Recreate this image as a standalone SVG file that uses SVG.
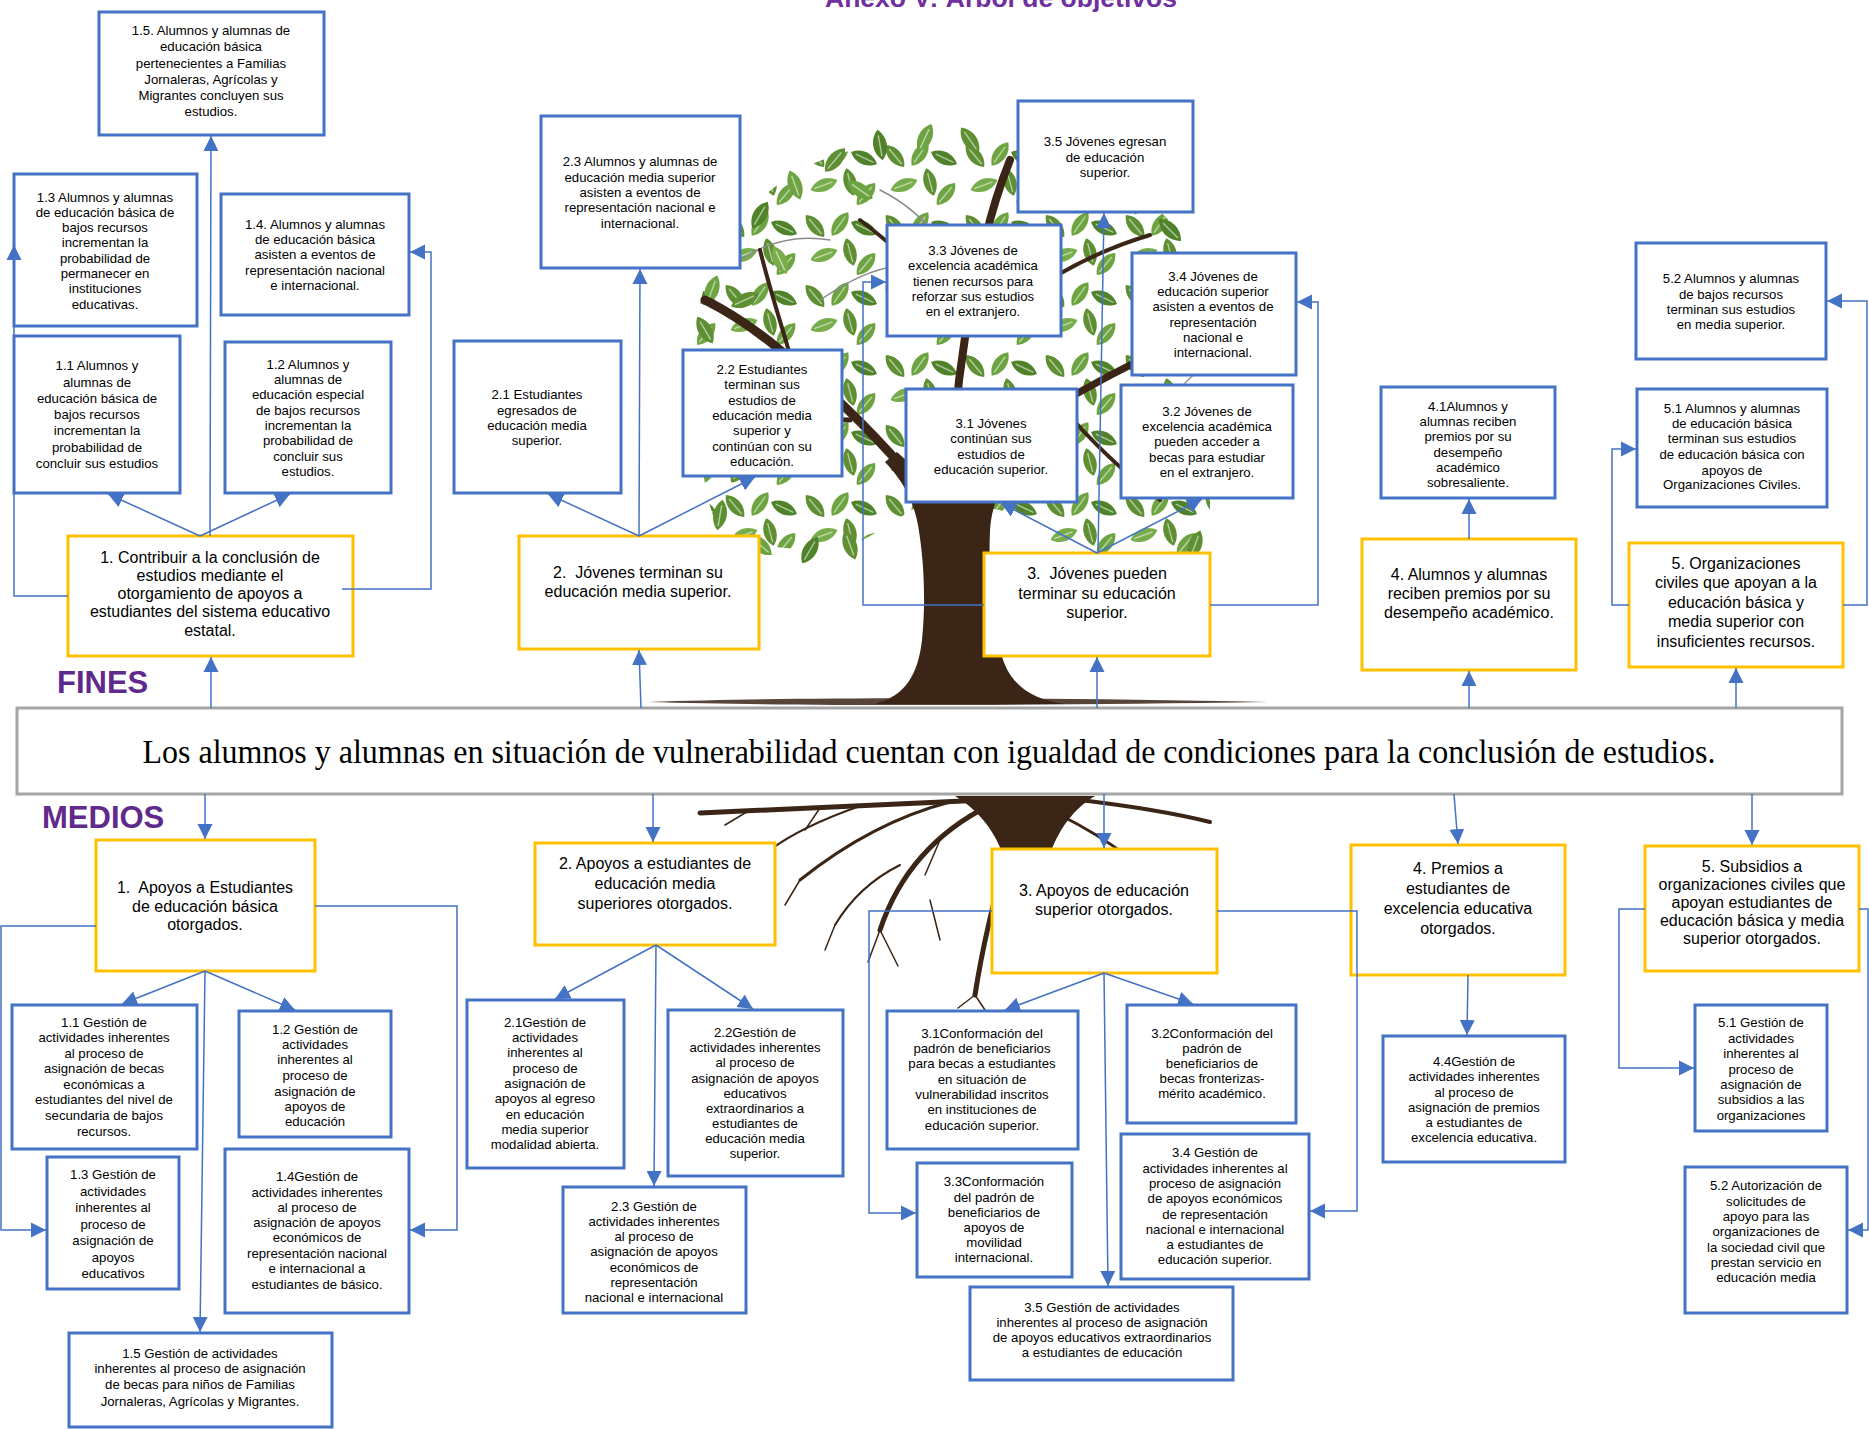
<svg xmlns="http://www.w3.org/2000/svg" xmlns:xlink="http://www.w3.org/1999/xlink" width="1869" height="1429" viewBox="0 0 1869 1429">
<defs>
<style>
.s{font-family:"Liberation Sans",Arial,sans-serif;font-size:13.2px;fill:#000;text-anchor:middle}
.m{font-family:"Liberation Sans",Arial,sans-serif;font-size:16px;fill:#000;text-anchor:middle;white-space:pre}
.bx{fill:#fff;stroke:#4472C4;stroke-width:3}
.yb{fill:#fff;stroke:#FFC000;stroke-width:3}
.cn{fill:none;stroke:#4472C4;stroke-width:1.5;marker-end:url(#ah)}
.lbl{font-family:"Liberation Sans",Arial,sans-serif;font-weight:bold;fill:#5F2A8C}
.br{stroke:#3a2516;fill:none;stroke-linecap:round}
.tw{stroke:#8a8a8a;fill:none;stroke-width:1.5;stroke-linecap:round}
</style>
<marker id="ah" markerUnits="userSpaceOnUse" markerWidth="16" markerHeight="16" viewBox="0 0 16 16" refX="15" refY="8" orient="auto"><path d="M0,0.5 L15,8 L0,15.5 Z" fill="#4472C4"/></marker>
<g id="lf"><path d="M0,-11 C6.5,-5 6.5,5 0,11 C-6.5,5 -6.5,-5 0,-11Z"/><path d="M0,-7 L0,8" stroke="#fff" stroke-width="1" opacity="0.55"/></g>
<pattern id="leaves" patternUnits="userSpaceOnUse" width="80" height="70">
<use xlink:href="#lf" transform="translate(15,16) rotate(-40) scale(1.3)" fill="#5e8f32"/>
<use xlink:href="#lf" transform="translate(40,14) rotate(35) scale(1.3)" fill="#6da341"/>
<use xlink:href="#lf" transform="translate(64,18) rotate(-65) scale(1.3)" fill="#4f8229"/>
<use xlink:href="#lf" transform="translate(24,45) rotate(70) scale(1.3)" fill="#77ad4b"/>
<use xlink:href="#lf" transform="translate(50,42) rotate(-15) scale(1.3)" fill="#5e8f32"/>
<use xlink:href="#lf" transform="translate(66,54) rotate(40) scale(1.3)" fill="#6da341"/>
</pattern>
<clipPath id="c51"><rect x="1695" y="1005" width="132" height="118"/></clipPath>
</defs>
<rect x="0" y="0" width="1869" height="1429" fill="#fff"/>

<g id="tree">
<path d="M697,340 C695,270 740,200 810,165 C870,138 950,132 1010,140 C1080,150 1150,190 1185,240 C1215,290 1218,360 1212,420 C1208,480 1215,530 1200,552 C1160,560 1090,555 1050,540 L1000,510 L930,500 C890,520 870,545 830,548 C780,552 740,545 715,520 C698,480 700,420 697,340 Z" fill="url(#leaves)"/>
<g>
<use xlink:href="#lf" transform="translate(705,330) rotate(-30) scale(1.4)" fill="#5e8f32"/>
<use xlink:href="#lf" transform="translate(712,290) rotate(20) scale(1.4)" fill="#6da341"/>
<use xlink:href="#lf" transform="translate(730,250) rotate(-50) scale(1.4)" fill="#5e8f32"/>
<use xlink:href="#lf" transform="translate(760,215) rotate(30) scale(1.4)" fill="#4f8229"/>
<use xlink:href="#lf" transform="translate(795,185) rotate(-20) scale(1.4)" fill="#6da341"/>
<use xlink:href="#lf" transform="translate(835,160) rotate(40) scale(1.4)" fill="#5e8f32"/>
<use xlink:href="#lf" transform="translate(880,145) rotate(-10) scale(1.4)" fill="#4f8229"/>
<use xlink:href="#lf" transform="translate(925,138) rotate(25) scale(1.4)" fill="#6da341"/>
<use xlink:href="#lf" transform="translate(970,140) rotate(-35) scale(1.4)" fill="#5e8f32"/>
<use xlink:href="#lf" transform="translate(1200,300) rotate(60) scale(1.4)" fill="#6da341"/>
<use xlink:href="#lf" transform="translate(1205,350) rotate(-20) scale(1.4)" fill="#5e8f32"/>
<use xlink:href="#lf" transform="translate(1208,420) rotate(30) scale(1.4)" fill="#4f8229"/>
<use xlink:href="#lf" transform="translate(1205,480) rotate(-40) scale(1.4)" fill="#6da341"/>
<use xlink:href="#lf" transform="translate(1195,545) rotate(20) scale(1.4)" fill="#5e8f32"/>
<use xlink:href="#lf" transform="translate(705,400) rotate(50) scale(1.4)" fill="#6da341"/>
<use xlink:href="#lf" transform="translate(708,460) rotate(-30) scale(1.4)" fill="#4f8229"/>
<use xlink:href="#lf" transform="translate(720,515) rotate(10) scale(1.4)" fill="#5e8f32"/>
<use xlink:href="#lf" transform="translate(760,545) rotate(-50) scale(1.4)" fill="#6da341"/>
<use xlink:href="#lf" transform="translate(810,550) rotate(30) scale(1.4)" fill="#4f8229"/>
<use xlink:href="#lf" transform="translate(850,545) rotate(-20) scale(1.4)" fill="#5e8f32"/>
<use xlink:href="#lf" transform="translate(1170,230) rotate(-45) scale(1.4)" fill="#4f8229"/>
<use xlink:href="#lf" transform="translate(1140,200) rotate(20) scale(1.4)" fill="#5e8f32"/>
<use xlink:href="#lf" transform="translate(1100,170) rotate(-15) scale(1.4)" fill="#6da341"/>
<use xlink:href="#lf" transform="translate(745,300) rotate(65) scale(1.4)" fill="#5e8f32"/>
<use xlink:href="#lf" transform="translate(780,260) rotate(-25) scale(1.4)" fill="#77ad4b"/>
<use xlink:href="#lf" transform="translate(740,470) rotate(35) scale(1.4)" fill="#5e8f32"/>
<use xlink:href="#lf" transform="translate(860,190) rotate(-55) scale(1.4)" fill="#6da341"/>
</g>
<path class="tw" d="M740,260 C770,240 800,235 830,240"/>
<path class="tw" d="M820,300 C850,280 870,270 900,265"/>
<path class="tw" d="M720,440 C760,450 800,460 840,470"/>
<path class="tw" d="M1150,420 C1170,400 1185,380 1200,370"/>
<path class="tw" d="M880,190 C900,200 920,215 935,235"/>
<path class="br" d="M905,470 C870,430 830,390 780,350 C750,325 725,310 705,300" stroke-width="9"/>
<path class="br" d="M850,420 C810,420 770,415 720,395" stroke-width="5"/>
<path class="br" d="M790,355 C780,320 770,290 760,250" stroke-width="4"/>
<path class="br" d="M955,420 C960,360 970,300 985,240 C992,210 1000,185 1010,160" stroke-width="8"/>
<path class="br" d="M975,330 C940,290 900,250 860,220" stroke-width="4"/>
<path class="br" d="M985,450 C1030,420 1080,390 1140,360 C1170,345 1190,330 1205,320" stroke-width="7"/>
<path class="br" d="M1020,300 C1060,270 1100,250 1150,235" stroke-width="4"/>
<path class="br" d="M1060,405 C1090,440 1120,470 1160,500" stroke-width="4"/>
<path d="M875,704 C905,696 918,675 922,640 C926,600 924,560 918,525 C912,495 900,478 885,462 L897,452 C915,468 930,485 940,500 C942,470 946,440 950,415 L962,417 C962,445 962,470 964,492 C980,470 1000,455 1020,440 L1028,450 C1005,475 992,500 990,530 C988,580 992,630 1005,665 C1015,688 1035,700 1065,704 Z" fill="#3a2516"/>
<path d="M648,702 C800,697 1000,697 1268,702 C1000,706 800,706 648,702 Z" fill="#3a2516" opacity="0.85"/>
<path d="M955,796 L1095,796 C1075,808 1058,828 1048,860 L1030,880 L1005,860 C995,830 978,810 955,796 Z" fill="#3a2516"/>
<path class="br" d="M985,800 C900,804 800,808 700,813" stroke-width="5"/>
<path class="br" d="M860,806 C820,820 790,835 770,850" stroke-width="2"/>
<path class="br" d="M990,805 C940,830 900,870 880,930" stroke-width="5"/>
<path class="br" d="M900,865 C870,880 850,900 835,925" stroke-width="2"/>
<path class="br" d="M1010,840 C1000,880 985,930 975,995" stroke-width="5"/>
<path class="br" d="M1040,850 C1055,890 1075,920 1090,965" stroke-width="4"/>
<path class="br" d="M1080,800 C1130,806 1170,812 1210,822" stroke-width="4"/>
<path class="br" d="M1060,815 C1110,840 1150,870 1180,905" stroke-width="3"/>
<path class="br" d="M950,802 C900,815 850,840 800,880" stroke-width="3"/>
<path class="br" d="M880,930 L868,962 M880,930 L898,966 M975,995 L958,1008 M975,995 L985,1010 M835,925 L825,950 M800,880 L785,905 M770,850 L745,860 M940,840 L925,875 M930,900 L940,940 M1000,900 L1015,940 M750,810 L725,825 M820,808 L805,830" stroke-width="1.5"/>
</g>

<text x="825" y="7" font-family="Liberation Sans, Arial, sans-serif" font-weight="bold" font-size="26.5" fill="#7030A0">Anexo V: Árbol de objetivos</text>
<text class="lbl" x="57" y="693" font-size="31">FINES</text>
<text class="lbl" x="42" y="828" font-size="31">MEDIOS</text>

<g id="central">
<rect x="17" y="708" width="1825" height="86" fill="#fff" stroke="#A5A5A5" stroke-width="3"/>
<text x="929" y="763" font-family="Liberation Serif, 'Times New Roman', serif" font-size="34" text-anchor="middle" textLength="1573" lengthAdjust="spacingAndGlyphs">Los alumnos y alumnas en situación de vulnerabilidad cuentan con igualdad de condiciones para la conclusión de estudios.</text>
</g>

<g id="n1_5"><rect class="bx" x="99" y="12" width="225" height="123"/><text class="s"><tspan x="211" y="35">1.5. Alumnos y alumnas de</tspan><tspan x="211" y="51">educación básica</tspan><tspan x="211" y="68">pertenecientes a Familias</tspan><tspan x="211" y="84">Jornaleras, Agrícolas y</tspan><tspan x="211" y="100">Migrantes concluyen sus</tspan><tspan x="211" y="116">estudios.</tspan></text></g>
<g id="n1_3"><rect class="bx" x="14" y="174" width="183" height="152"/><text class="s"><tspan x="105" y="202">1.3 Alumnos y alumnas</tspan><tspan x="105" y="217">de educación básica de</tspan><tspan x="105" y="232">bajos recursos</tspan><tspan x="105" y="247">incrementan la</tspan><tspan x="105" y="263">probabilidad de</tspan><tspan x="105" y="278">permanecer en</tspan><tspan x="105" y="293">instituciones</tspan><tspan x="105" y="309">educativas.</tspan></text></g>
<g id="n1_4"><rect class="bx" x="221" y="194" width="188" height="121"/><text class="s"><tspan x="315" y="229">1.4. Alumnos y alumnas</tspan><tspan x="315" y="244">de educación básica</tspan><tspan x="315" y="259">asisten a eventos de</tspan><tspan x="315" y="275">representación nacional</tspan><tspan x="315" y="290">e internacional.</tspan></text></g>
<g id="n1_1"><rect class="bx" x="14" y="336" width="166" height="157"/><text class="s"><tspan x="97" y="370">1.1 Alumnos y</tspan><tspan x="97" y="387">alumnas de</tspan><tspan x="97" y="403">educación básica de</tspan><tspan x="97" y="419">bajos recursos</tspan><tspan x="97" y="435">incrementan la</tspan><tspan x="97" y="452">probabilidad de</tspan><tspan x="97" y="468">concluir sus estudios</tspan></text></g>
<g id="n1_2"><rect class="bx" x="225" y="342" width="166" height="151"/><text class="s"><tspan x="308" y="369">1.2 Alumnos y</tspan><tspan x="308" y="384">alumnas de</tspan><tspan x="308" y="399">educación especial</tspan><tspan x="308" y="415">de bajos recursos</tspan><tspan x="308" y="430">incrementan la</tspan><tspan x="308" y="445">probabilidad de</tspan><tspan x="308" y="461">concluir sus</tspan><tspan x="308" y="476">estudios.</tspan></text></g>
<g id="n2_3"><rect class="bx" x="541" y="116" width="199" height="152"/><text class="s"><tspan x="640" y="166">2.3 Alumnos y alumnas de</tspan><tspan x="640" y="182">educación media superior</tspan><tspan x="640" y="197">asisten a eventos de</tspan><tspan x="640" y="212">representación nacional e</tspan><tspan x="640" y="228">internacional.</tspan></text></g>
<g id="n2_1"><rect class="bx" x="454" y="341" width="167" height="152"/><text class="s"><tspan x="537" y="399">2.1 Estudiantes</tspan><tspan x="537" y="415">egresados de</tspan><tspan x="537" y="430">educación media</tspan><tspan x="537" y="445">superior.</tspan></text></g>
<g id="n2_2"><rect class="bx" x="683" y="350" width="159" height="126"/><text class="s"><tspan x="762" y="374">2.2 Estudiantes</tspan><tspan x="762" y="389">terminan sus</tspan><tspan x="762" y="405">estudios de</tspan><tspan x="762" y="420">educación media</tspan><tspan x="762" y="435">superior y</tspan><tspan x="762" y="451">continúan con su</tspan><tspan x="762" y="466">educación.</tspan></text></g>
<g id="n3_5"><rect class="bx" x="1018" y="101" width="175" height="111"/><text class="s"><tspan x="1105" y="146">3.5 Jóvenes egresan</tspan><tspan x="1105" y="162">de educación</tspan><tspan x="1105" y="177">superior.</tspan></text></g>
<g id="n3_3"><rect class="bx" x="887" y="225" width="174" height="111"/><text class="s"><tspan x="973" y="255">3.3 Jóvenes de</tspan><tspan x="973" y="270">excelencia académica</tspan><tspan x="973" y="286">tienen recursos para</tspan><tspan x="973" y="301">reforzar sus estudios</tspan><tspan x="973" y="316">en el extranjero.</tspan></text></g>
<g id="n3_4"><rect class="bx" x="1132" y="253" width="164" height="122"/><text class="s"><tspan x="1213" y="281">3.4 Jóvenes de</tspan><tspan x="1213" y="296">educación superior</tspan><tspan x="1213" y="311">asisten a eventos de</tspan><tspan x="1213" y="327">representación</tspan><tspan x="1213" y="342">nacional e</tspan><tspan x="1213" y="357">internacional.</tspan></text></g>
<g id="n3_1"><rect class="bx" x="906" y="389" width="171" height="113"/><text class="s"><tspan x="991" y="428">3.1 Jóvenes</tspan><tspan x="991" y="443">continúan sus</tspan><tspan x="991" y="459">estudios de</tspan><tspan x="991" y="474">educación superior.</tspan></text></g>
<g id="n3_2"><rect class="bx" x="1121" y="385" width="172" height="113"/><text class="s"><tspan x="1207" y="416">3.2 Jóvenes de</tspan><tspan x="1207" y="431">excelencia académica</tspan><tspan x="1207" y="446">pueden acceder a</tspan><tspan x="1207" y="462">becas para estudiar</tspan><tspan x="1207" y="477">en el extranjero.</tspan></text></g>
<g id="n4_1"><rect class="bx" x="1381" y="387" width="174" height="111"/><text class="s"><tspan x="1468" y="411">4.1Alumnos y</tspan><tspan x="1468" y="426">alumnas reciben</tspan><tspan x="1468" y="441">premios por su</tspan><tspan x="1468" y="457">desempeño</tspan><tspan x="1468" y="472">académico</tspan><tspan x="1468" y="487">sobresaliente.</tspan></text></g>
<g id="n5_2"><rect class="bx" x="1636" y="243" width="190" height="116"/><text class="s"><tspan x="1731" y="283">5.2 Alumnos y alumnas</tspan><tspan x="1731" y="299">de bajos recursos</tspan><tspan x="1731" y="314">terminan sus estudios</tspan><tspan x="1731" y="329">en media superior.</tspan></text></g>
<g id="n5_1"><rect class="bx" x="1637" y="389" width="190" height="118"/><text class="s"><tspan x="1732" y="413">5.1 Alumnos y alumnas</tspan><tspan x="1732" y="428">de educación básica</tspan><tspan x="1732" y="443">terminan sus estudios</tspan><tspan x="1732" y="459">de educación básica con</tspan><tspan x="1732" y="475">apoyos de</tspan><tspan x="1732" y="489">Organizaciones Civiles.</tspan></text></g>

<g id="f1"><rect class="yb" x="68" y="536" width="285" height="120"/><text class="m"><tspan x="210" y="563">1. Contribuir a la conclusión de</tspan><tspan x="210" y="581">estudios mediante el</tspan><tspan x="210" y="599">otorgamiento de apoyos a</tspan><tspan x="210" y="617">estudiantes del sistema educativo</tspan><tspan x="210" y="636">estatal.</tspan></text></g>
<g id="f2"><rect class="yb" x="519" y="536" width="240" height="113"/><text class="m"><tspan x="638" y="578">2.  Jóvenes terminan su</tspan><tspan x="638" y="597">educación media superior.</tspan></text></g>
<g id="f3"><rect class="yb" x="984" y="553" width="226" height="103"/><text class="m"><tspan x="1097" y="579">3.  Jóvenes pueden</tspan><tspan x="1097" y="599">terminar su educación</tspan><tspan x="1097" y="618">superior.</tspan></text></g>
<g id="f4"><rect class="yb" x="1362" y="539" width="214" height="131"/><text class="m"><tspan x="1469" y="580">4. Alumnos y alumnas</tspan><tspan x="1469" y="599">reciben premios por su</tspan><tspan x="1469" y="618">desempeño académico.</tspan></text></g>
<g id="f5"><rect class="yb" x="1629" y="543" width="214" height="124"/><text class="m"><tspan x="1736" y="569">5. Organizaciones</tspan><tspan x="1736" y="588">civiles que apoyan a la</tspan><tspan x="1736" y="608">educación básica y</tspan><tspan x="1736" y="627">media superior con</tspan><tspan x="1736" y="647">insuficientes recursos.</tspan></text></g>

<g id="m1"><rect class="yb" x="96" y="840" width="219" height="131"/><text class="m"><tspan x="205" y="893">1.  Apoyos a Estudiantes</tspan><tspan x="205" y="912">de educación básica</tspan><tspan x="205" y="930">otorgados.</tspan></text></g>
<g id="m2"><rect class="yb" x="535" y="843" width="240" height="102"/><text class="m"><tspan x="655" y="869">2. Apoyos a estudiantes de</tspan><tspan x="655" y="889">educación media</tspan><tspan x="655" y="909">superiores otorgados.</tspan></text></g>
<g id="m3"><rect class="yb" x="992" y="849" width="225" height="124"/><text class="m"><tspan x="1104" y="896">3. Apoyos de educación</tspan><tspan x="1104" y="915">superior otorgados.</tspan></text></g>
<g id="m4"><rect class="yb" x="1351" y="845" width="214" height="130"/><text class="m"><tspan x="1458" y="874">4. Premios a</tspan><tspan x="1458" y="894">estudiantes de</tspan><tspan x="1458" y="914">excelencia educativa</tspan><tspan x="1458" y="934">otorgados.</tspan></text></g>
<g id="m5"><rect class="yb" x="1645" y="846" width="214" height="125"/><text class="m"><tspan x="1752" y="872">5. Subsidios a</tspan><tspan x="1752" y="890">organizaciones civiles que</tspan><tspan x="1752" y="908">apoyan estudiantes de</tspan><tspan x="1752" y="926">educación básica y media</tspan><tspan x="1752" y="944">superior otorgados.</tspan></text></g>

<g id="s1_1"><rect class="bx" x="12" y="1005" width="185" height="144"/><text class="s"><tspan x="104" y="1027">1.1 Gestión de</tspan><tspan x="104" y="1042">actividades inherentes</tspan><tspan x="104" y="1058">al proceso de</tspan><tspan x="104" y="1073">asignación de becas</tspan><tspan x="104" y="1089">económicas a</tspan><tspan x="104" y="1104">estudiantes del nivel de</tspan><tspan x="104" y="1120">secundaria de bajos</tspan><tspan x="104" y="1136">recursos.</tspan></text></g>
<g id="s1_2"><rect class="bx" x="239" y="1011" width="152" height="126"/><text class="s"><tspan x="315" y="1034">1.2 Gestión de</tspan><tspan x="315" y="1049">actividades</tspan><tspan x="315" y="1064">inherentes al</tspan><tspan x="315" y="1080">proceso de</tspan><tspan x="315" y="1096">asignación de</tspan><tspan x="315" y="1111">apoyos de</tspan><tspan x="315" y="1126">educación</tspan></text></g>
<g id="s1_3"><rect class="bx" x="47" y="1157" width="132" height="132"/><text class="s"><tspan x="113" y="1179">1.3 Gestión de</tspan><tspan x="113" y="1196">actividades</tspan><tspan x="113" y="1212">inherentes al</tspan><tspan x="113" y="1229">proceso de</tspan><tspan x="113" y="1245">asignación de</tspan><tspan x="113" y="1262">apoyos</tspan><tspan x="113" y="1278">educativos</tspan></text></g>
<g id="s1_4"><rect class="bx" x="225" y="1149" width="184" height="164"/><text class="s"><tspan x="317" y="1181">1.4Gestión de</tspan><tspan x="317" y="1197">actividades inherentes</tspan><tspan x="317" y="1212">al proceso de</tspan><tspan x="317" y="1227">asignación de apoyos</tspan><tspan x="317" y="1242">económicos de</tspan><tspan x="317" y="1258">representación nacional</tspan><tspan x="317" y="1273">e internacional a</tspan><tspan x="317" y="1289">estudiantes de básico.</tspan></text></g>
<g id="s1_5"><rect class="bx" x="69" y="1333" width="263" height="94"/><text class="s"><tspan x="200" y="1358">1.5 Gestión de actividades</tspan><tspan x="200" y="1373">inherentes al proceso de asignación</tspan><tspan x="200" y="1389">de becas para niños de Familias</tspan><tspan x="200" y="1406">Jornaleras, Agrícolas y Migrantes.</tspan></text></g>
<g id="s2_1"><rect class="bx" x="467" y="1000" width="157" height="168"/><text class="s"><tspan x="545" y="1027">2.1Gestión de</tspan><tspan x="545" y="1042">actividades</tspan><tspan x="545" y="1057">inherentes al</tspan><tspan x="545" y="1073">proceso de</tspan><tspan x="545" y="1088">asignación de</tspan><tspan x="545" y="1103">apoyos al egreso</tspan><tspan x="545" y="1119">en educación</tspan><tspan x="545" y="1134">media superior</tspan><tspan x="545" y="1149">modalidad abierta.</tspan></text></g>
<g id="s2_2"><rect class="bx" x="668" y="1010" width="175" height="166"/><text class="s"><tspan x="755" y="1037">2.2Gestión de</tspan><tspan x="755" y="1052">actividades inherentes</tspan><tspan x="755" y="1067">al proceso de</tspan><tspan x="755" y="1083">asignación de apoyos</tspan><tspan x="755" y="1098">educativos</tspan><tspan x="755" y="1113">extraordinarios a</tspan><tspan x="755" y="1128">estudiantes de</tspan><tspan x="755" y="1143">educación media</tspan><tspan x="755" y="1158">superior.</tspan></text></g>
<g id="s2_3"><rect class="bx" x="563" y="1187" width="183" height="126"/><text class="s"><tspan x="654" y="1211">2.3 Gestión de</tspan><tspan x="654" y="1226">actividades inherentes</tspan><tspan x="654" y="1241">al proceso de</tspan><tspan x="654" y="1256">asignación de apoyos</tspan><tspan x="654" y="1272">económicos de</tspan><tspan x="654" y="1287">representación</tspan><tspan x="654" y="1302">nacional e internacional</tspan></text></g>
<g id="s3_1"><rect class="bx" x="887" y="1011" width="191" height="138"/><text class="s"><tspan x="982" y="1038">3.1Conformación del</tspan><tspan x="982" y="1053">padrón de beneficiarios</tspan><tspan x="982" y="1068">para becas a estudiantes</tspan><tspan x="982" y="1084">en situación de</tspan><tspan x="982" y="1099">vulnerabilidad inscritos</tspan><tspan x="982" y="1114">en instituciones de</tspan><tspan x="982" y="1130">educación superior.</tspan></text></g>
<g id="s3_2"><rect class="bx" x="1127" y="1005" width="169" height="118"/><text class="s"><tspan x="1212" y="1038">3.2Conformación del</tspan><tspan x="1212" y="1053">padrón de</tspan><tspan x="1212" y="1068">beneficiarios de</tspan><tspan x="1212" y="1083">becas fronterizas-</tspan><tspan x="1212" y="1098">mérito académico.</tspan></text></g>
<g id="s3_3"><rect class="bx" x="917" y="1163" width="155" height="114"/><text class="s"><tspan x="994" y="1186">3.3Conformación</tspan><tspan x="994" y="1202">del padrón de</tspan><tspan x="994" y="1217">beneficiarios de</tspan><tspan x="994" y="1232">apoyos de</tspan><tspan x="994" y="1247">movilidad</tspan><tspan x="994" y="1262">internacional.</tspan></text></g>
<g id="s3_4"><rect class="bx" x="1121" y="1134" width="188" height="145"/><text class="s"><tspan x="1215" y="1157">3.4 Gestión de</tspan><tspan x="1215" y="1173">actividades inherentes al</tspan><tspan x="1215" y="1188">proceso de asignación</tspan><tspan x="1215" y="1203">de apoyos económicos</tspan><tspan x="1215" y="1219">de representación</tspan><tspan x="1215" y="1234">nacional e internacional</tspan><tspan x="1215" y="1249">a estudiantes de</tspan><tspan x="1215" y="1264">educación superior.</tspan></text></g>
<g id="s3_5"><rect class="bx" x="970" y="1287" width="263" height="93"/><text class="s"><tspan x="1102" y="1312">3.5 Gestión de actividades</tspan><tspan x="1102" y="1327">inherentes al proceso de asignación</tspan><tspan x="1102" y="1342">de apoyos educativos extraordinarios</tspan><tspan x="1102" y="1357">a estudiantes de educación</tspan></text></g>
<g id="s4_4"><rect class="bx" x="1383" y="1036" width="182" height="126"/><text class="s"><tspan x="1474" y="1066">4.4Gestión de</tspan><tspan x="1474" y="1081">actividades inherentes</tspan><tspan x="1474" y="1097">al proceso de</tspan><tspan x="1474" y="1112">asignación de premios</tspan><tspan x="1474" y="1127">a estudiantes de</tspan><tspan x="1474" y="1142">excelencia educativa.</tspan></text></g>
<g id="s5_1"><rect class="bx" x="1695" y="1005" width="132" height="126"/><text class="s" clip-path="url(#c51)"><tspan x="1761" y="1027">5.1 Gestión de</tspan><tspan x="1761" y="1043">actividades</tspan><tspan x="1761" y="1058">inherentes al</tspan><tspan x="1761" y="1074">proceso de</tspan><tspan x="1761" y="1089">asignación de</tspan><tspan x="1761" y="1104">subsidios a las</tspan><tspan x="1761" y="1120">organizaciones</tspan></text></g>
<g id="s5_2"><rect class="bx" x="1685" y="1167" width="162" height="146"/><text class="s"><tspan x="1766" y="1190">5.2 Autorización de</tspan><tspan x="1766" y="1206">solicitudes de</tspan><tspan x="1766" y="1221">apoyo para las</tspan><tspan x="1766" y="1236">organizaciones de</tspan><tspan x="1766" y="1252">la sociedad civil que</tspan><tspan x="1766" y="1267">prestan servicio en</tspan><tspan x="1766" y="1282">educación media</tspan></text></g>

<g id="connectors">
<path class="cn" d="M200,536 L108,494"/>
<path class="cn" d="M200,536 L290,494"/>
<path class="cn" d="M210,536 L211,136"/>
<path class="cn" d="M68,596 L14,596 L14,245"/>
<path class="cn" d="M342,589 L431,589 L431,252 L410,252"/>
<path class="cn" d="M211,708 L211,657"/>
<path class="cn" d="M639,536 L548,494"/>
<path class="cn" d="M639,536 L755,477"/>
<path class="cn" d="M639,536 L640,269"/>
<path class="cn" d="M641,708 L639,650"/>
<path class="cn" d="M1097,553 L1001,503"/>
<path class="cn" d="M1097,553 L1202,499"/>
<path class="cn" d="M1098,553 L1104,213"/>
<path class="cn" d="M984,605 L863,605 L863,282 L886,282"/>
<path class="cn" d="M1210,605 L1318,605 L1318,302 L1297,302"/>
<path class="cn" d="M1097,708 L1097,657"/>
<path class="cn" d="M1469,539 L1469,499"/>
<path class="cn" d="M1469,708 L1469,671"/>
<path class="cn" d="M1629,605 L1612,605 L1612,449 L1636,449"/>
<path class="cn" d="M1843,605 L1867,605 L1867,301 L1827,301"/>
<path class="cn" d="M1736,708 L1736,668"/>
<path class="cn" d="M205,794 L205,839"/>
<path class="cn" d="M205,971 L122,1004"/>
<path class="cn" d="M205,971 L295,1010"/>
<path class="cn" d="M205,971 L200,1332"/>
<path class="cn" d="M96,926 L1,926 L1,1230 L46,1230"/>
<path class="cn" d="M315,906 L457,906 L457,1230 L410,1230"/>
<path class="cn" d="M653,794 L653,842"/>
<path class="cn" d="M656,945 L555,999"/>
<path class="cn" d="M656,945 L753,1009"/>
<path class="cn" d="M656,945 L654,1186"/>
<path class="cn" d="M1104,794 L1104,848"/>
<path class="cn" d="M1104,973 L1005,1010"/>
<path class="cn" d="M1104,973 L1193,1004"/>
<path class="cn" d="M1104,973 L1108,1286"/>
<path class="cn" d="M992,911 L869,911 L869,1213 L916,1213"/>
<path class="cn" d="M1217,911 L1357,911 L1357,1211 L1310,1211"/>
<path class="cn" d="M1454,794 L1458,844"/>
<path class="cn" d="M1468,975 L1467,1035"/>
<path class="cn" d="M1752,794 L1752,845"/>
<path class="cn" d="M1645,909 L1619,909 L1619,1068 L1694,1068"/>
<path class="cn" d="M1859,909 L1868,909 L1868,1230 L1848,1230"/>
</g>
</svg>
